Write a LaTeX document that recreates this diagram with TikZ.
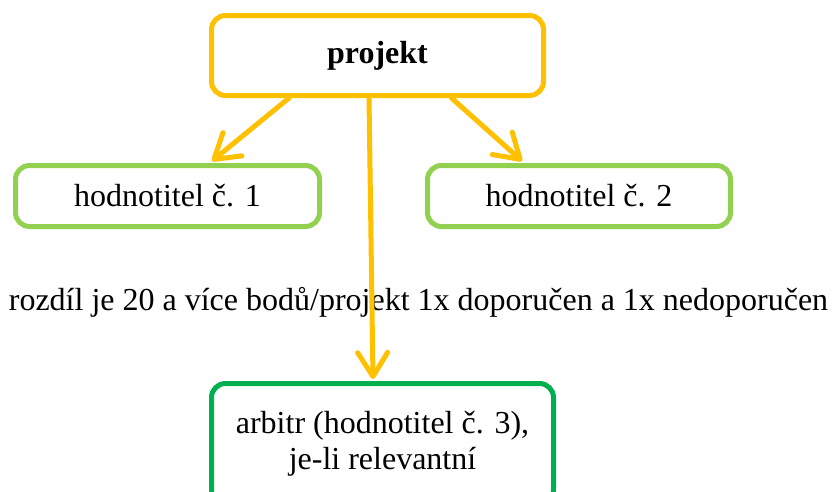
\documentclass[tikz,border=0pt]{standalone}
\usepackage{fontspec}
\setmainfont{Liberation Serif}
\usetikzlibrary{arrows.meta}
\definecolor{amber}{HTML}{FFC000}
\definecolor{lgreen}{HTML}{92D050}
\definecolor{dgreen}{HTML}{00B050}
\begin{document}
\begin{tikzpicture}[x=1pt,y=-1pt,
  box/.style={draw, line width=5pt, rounded corners=14pt, fill=white, inner sep=0pt, align=center, font=\fontsize{32}{36}\selectfont},
  conn/.style={draw=amber, line width=5pt, line cap=round, -{Straight Barb[length=24pt,width=30pt,line cap=round,round]}}]
\useasboundingbox (0,0) rectangle (834,491);
\clip (0,0) rectangle (834,491);
\node[box, draw=amber, minimum width=332pt, minimum height=80pt, font=\fontsize{32}{36}\selectfont\bfseries] (proj) at (377.5,55.5) {projekt};
\node[box, draw=lgreen, minimum width=304pt, minimum height=61pt] (h1) at (167.5,196) {hodnotitel č. 1};
\node[box, draw=lgreen, minimum width=303pt, minimum height=61pt] (h2) at (579,196) {hodnotitel č. 2};
\node[box, draw=dgreen, minimum width=342pt, minimum height=120pt] (arb) at (382.5,443.5) {arbitr (hodnotitel č. 3),\\je-li relevantní};
\node[anchor=base, inner sep=0pt, font=\fontsize{32}{36}\selectfont] (txt) at (418.5,310) {rozdíl je 20 a více bodů/projekt 1x doporučen a 1x nedoporučen};
\draw[conn] ([xshift=-88.5pt]proj.south) -- ([xshift=44.5pt,yshift=2pt]h1.north);
\draw[conn] ([xshift=74pt]proj.south) -- ([xshift=-57pt,yshift=2pt]h2.north);
\draw[conn] ([xshift=-8.5pt]proj.south) -- ([xshift=-9.5pt,yshift=2pt]arb.north);
\end{tikzpicture}
\end{document}
